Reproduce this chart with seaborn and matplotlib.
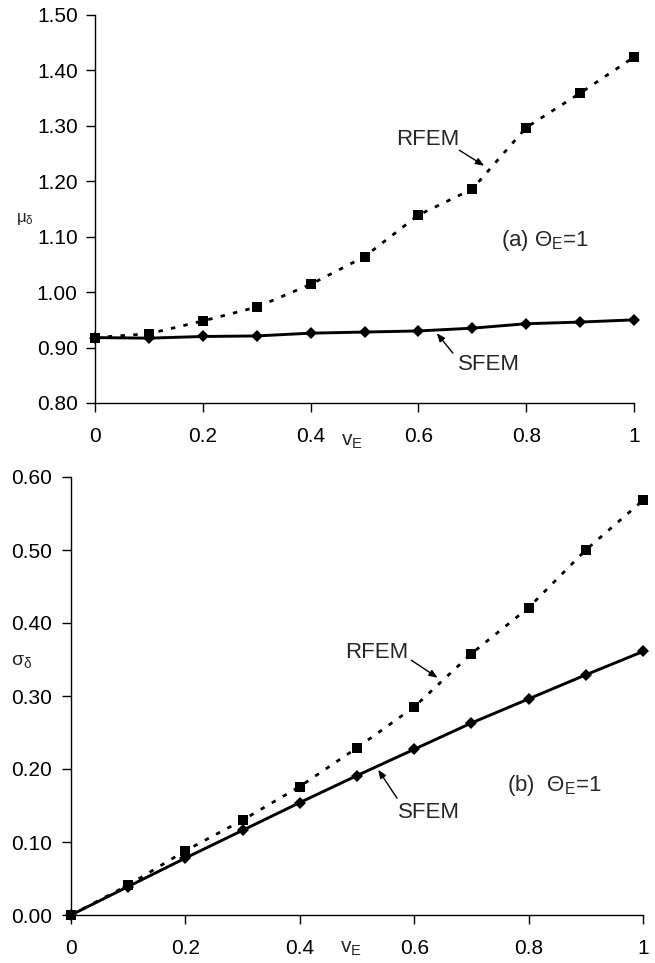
import matplotlib
matplotlib.use("Agg")
import matplotlib.pyplot as plt
import seaborn as sns
import pandas as pd

# ---- data ----
v_E = [0.0, 0.1, 0.2, 0.3, 0.4, 0.5, 0.6, 0.7, 0.8, 0.9, 1.0]
mu_rfem = [0.918, 0.925, 0.948, 0.973, 1.014, 1.064, 1.139, 1.186, 1.297, 1.359, 1.424]
mu_sfem = [0.918, 0.917, 0.920, 0.921, 0.926, 0.928, 0.930, 0.935, 0.943, 0.946, 0.950]
sd_rfem = [0.000, 0.041, 0.088, 0.130, 0.176, 0.229, 0.285, 0.358, 0.421, 0.500, 0.568]
sd_sfem = [0.000, 0.039, 0.078, 0.116, 0.154, 0.191, 0.227, 0.263, 0.296, 0.329, 0.361]
x_ticks = [0, 0.2, 0.4, 0.6, 0.8, 1]
x_ticklabels = ["0", "0.2", "0.4", "0.6", "0.8", "1"]
mu_ticks = [0.80, 0.90, 1.00, 1.10, 1.20, 1.30, 1.40, 1.50]
sd_ticks = [0.00, 0.10, 0.20, 0.30, 0.40, 0.50, 0.60]

df_mu = pd.DataFrame({"v": v_E, "RFEM": mu_rfem, "SFEM": mu_sfem})
df_sd = pd.DataFrame({"v": v_E, "RFEM": sd_rfem, "SFEM": sd_sfem})

sns.set_style("ticks")
plt.rcParams["font.family"] = ["Liberation Sans", "DejaVu Sans"]
plt.rcParams["mathtext.fontset"] = "custom"
plt.rcParams["mathtext.rm"] = "Liberation Sans"
plt.rcParams["mathtext.it"] = "Liberation Sans"
plt.rcParams["mathtext.bf"] = "Liberation Sans:bold"

W, H = 655, 963
fig = plt.figure(figsize=(W / 100, H / 100), dpi=100)

def box(l, t, r, b):
    return [l / W, 1 - b / H, (r - l) / W, (b - t) / H]

ax1 = fig.add_axes(box(95, 15, 634, 403))
ax2 = fig.add_axes(box(71, 477, 643, 915))

dotted = (0, (1.6, 3.0))

def draw(ax, df):
    sns.lineplot(data=df, x="v", y="RFEM", ax=ax, color="black", marker="s",
                 markersize=7.5, markeredgewidth=0, linewidth=2.0,
                 linestyle=dotted, sort=False, errorbar=None)
    sns.lineplot(data=df, x="v", y="SFEM", ax=ax, color="black", marker="D",
                 markersize=6, markeredgewidth=0, linewidth=2.1,
                 sort=False, errorbar=None)
    ax.set_xlim(0, 1)
    ax.set_xticks(x_ticks)
    ax.set_xticklabels(x_ticklabels)
    ax.set_xlabel("")
    ax.set_ylabel("")
    for s in ["top", "right"]:
        ax.spines[s].set_visible(False)
    for s in ["left", "bottom"]:
        ax.spines[s].set_linewidth(1.0)
        ax.spines[s].set_color("black")
    ax.tick_params(axis="both", direction="out", length=6.5, width=1.0,
                   colors="black", labelsize=15)
    for l in ax.lines:
        l.set_clip_on(False)

draw(ax1, df_mu)
ax1.set_ylim(0.80, 1.50)
ax1.set_yticks(mu_ticks)
ax1.set_yticklabels([f"{t:.2f}" for t in mu_ticks])
ax1.tick_params(axis="x", pad=11)
ax1.tick_params(axis="y", pad=6)

draw(ax2, df_sd)
ax2.set_ylim(0.0, 0.60)
ax2.set_yticks(sd_ticks)
ax2.set_yticklabels([f"{t:.2f}" for t in sd_ticks])
ax2.tick_params(axis="x", pad=11)
ax2.tick_params(axis="y", pad=7)

arrow = dict(arrowstyle="-|>,head_length=0.5,head_width=0.2", color="black",
             lw=1.0, shrinkA=0, shrinkB=0)
tfs = 16

# top annotations
ax1.text(0.618, 1.276, "RFEM", fontsize=tfs, ha="center", va="center")
ax1.annotate("", xy=(0.722, 1.228), xytext=(0.676, 1.256), arrowprops=arrow)
ax1.text(0.73, 0.8686, "SFEM", fontsize=tfs, ha="center", va="center")
ax1.annotate("", xy=(0.634, 0.926), xytext=(0.664, 0.890), arrowprops=arrow)
ax1.text(0.754, 1.094, r"(a) $\mathregular{\Theta_E}$=1", fontsize=tfs,
         ha="left", va="center")

# bottom annotations
ax2.text(0.535, 0.360, "RFEM", fontsize=tfs, ha="center", va="center")
ax2.annotate("", xy=(0.641, 0.325), xytext=(0.595, 0.349), arrowprops=arrow)
ax2.text(0.625, 0.140, "SFEM", fontsize=tfs, ha="center", va="center")
ax2.annotate("", xy=(0.537, 0.199), xytext=(0.570, 0.160), arrowprops=arrow)
ax2.text(0.763, 0.178, r"(b)  $\mathregular{\Theta_E}$=1", fontsize=tfs,
         ha="left", va="center")

# axis labels
fig.text(352 / W, 1 - 441 / H, r"$\mathregular{v_E}$", fontsize=15,
         ha="center", va="center")
fig.text(351 / W, 1 - 948 / H, r"$\mathregular{v_E}$", fontsize=15,
         ha="center", va="center")
fig.text(25 / W, 1 - 219 / H, r"$\mathregular{\mu_\delta}$", fontsize=12,
         ha="center", va="center")
fig.text(22 / W, 1 - 662 / H, r"$\mathregular{\sigma_\delta}$", fontsize=14,
         ha="center", va="center")

fig.savefig("out.png", dpi=100)
